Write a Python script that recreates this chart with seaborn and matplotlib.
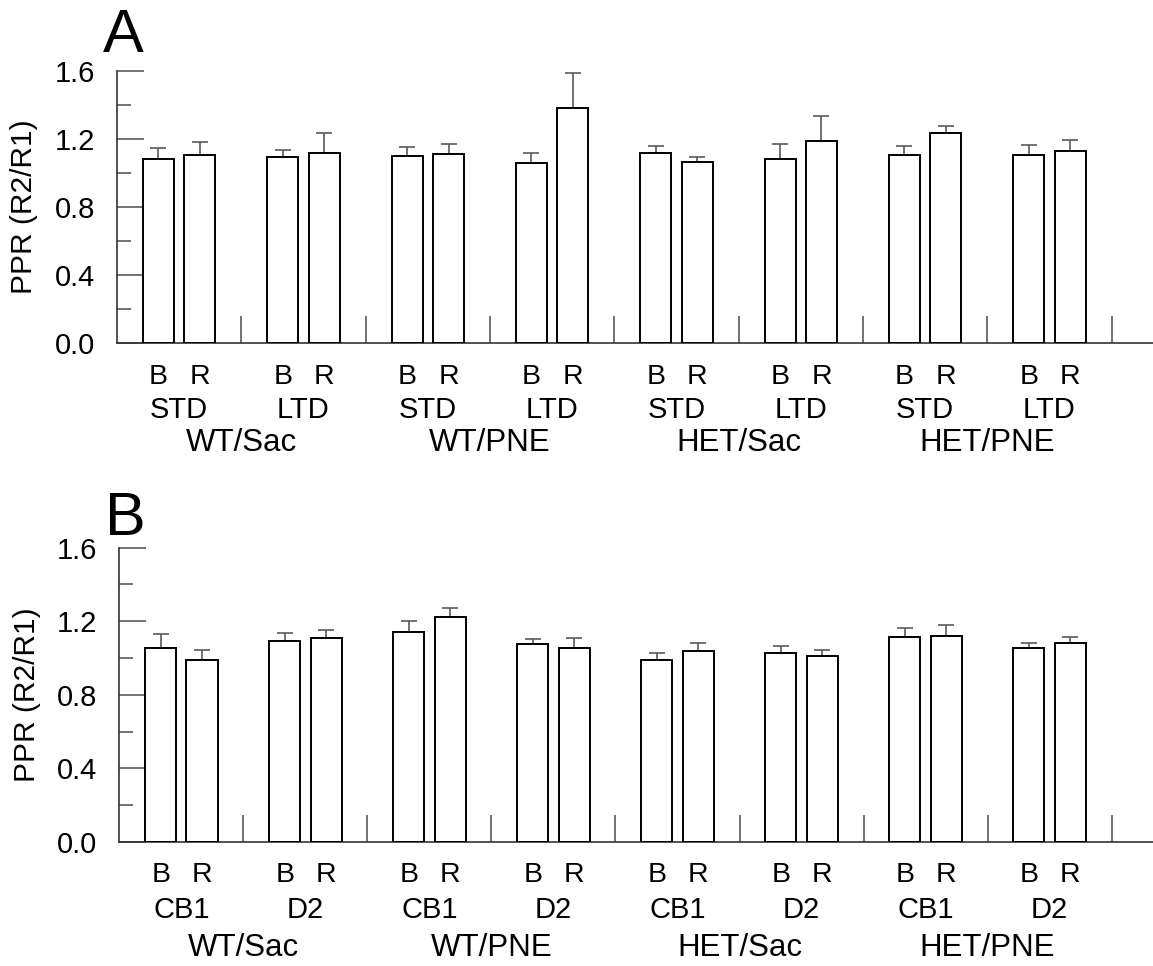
import matplotlib
matplotlib.use("Agg")
import matplotlib.pyplot as plt
import numpy as np
import pandas as pd
import seaborn as sns

# grupos e rótulos
CONDITIONS = ["WT/Sac", "WT/PNE", "HET/Sac", "HET/PNE"]
BARS = ["B", "R"]
SUB_A = ["STD", "LTD"]
SUB_B = ["CB1", "D2"]

# painel A: PPR médio e erro (só para cima), ordem: condição -> STD/LTD -> B/R
ppr_a = [1.08, 1.105, 1.097, 1.116,
         1.102, 1.110, 1.058, 1.381,
         1.116, 1.063, 1.085, 1.189,
         1.108, 1.236, 1.105, 1.130]
err_a = [0.068, 0.080, 0.041, 0.120,
         0.050, 0.063, 0.058, 0.205,
         0.043, 0.030, 0.088, 0.145,
         0.049, 0.043, 0.058, 0.063]

# painel B: CB1/D2
ppr_b = [1.057, 0.988, 1.091, 1.111,
         1.142, 1.224, 1.075, 1.057,
         0.991, 1.037, 1.026, 1.011,
         1.115, 1.122, 1.057, 1.080]
err_b = [0.076, 0.054, 0.047, 0.044,
         0.058, 0.050, 0.031, 0.054,
         0.036, 0.044, 0.038, 0.031,
         0.050, 0.060, 0.027, 0.036]

YTICKS = [0.0, 0.4, 0.8, 1.2, 1.6]
YMINOR = [0.2, 0.6, 1.0, 1.4]

sns.set_theme(style="white")
plt.rcParams["font.family"] = ["Liberation Sans", "DejaVu Sans"]
plt.rcParams["text.color"] = "black"
plt.rcParams["axes.labelcolor"] = "black"

PX = 0.72  # px -> pt a 100 dpi
FS_TICK = 21
FS_BAR = 20.5
FS_SUB = 21
FS_COND = 22.5
FS_YLAB = 21.5
ERR_COLOR = "#5a5a5a"
AX_COLOR = "#333333"


def build_frame(ppr, err, subs):
    rows = []
    i = 0
    for c_i, cond in enumerate(CONDITIONS):
        for s_i, sub in enumerate(subs):
            g = c_i * 2 + s_i
            for b_i, b in enumerate(BARS):
                rows.append({"cond": cond, "sub": sub, "bar": b,
                             "pos": 3 * g + 1 + b_i, "group": g,
                             "ppr": ppr[i], "err": err[i]})
                i += 1
    return pd.DataFrame(rows)


def draw_panel(ax, df, offsets):
    sns.barplot(data=df, x="pos", y="ppr", native_scale=True, width=0.75,
                color="white", edgecolor="black", linewidth=1.4,
                errorbar=None, ax=ax, zorder=3)
    ax.errorbar(df["pos"], df["ppr"], yerr=[np.zeros(len(df)), df["err"]],
                fmt="none", ecolor=ERR_COLOR, elinewidth=1.2, capsize=8 * PX,
                capthick=1.2, zorder=2)
    ax.set_xlim(0, 25)
    ax.set_ylim(0, 1.6)
    ax.set_yticks(YTICKS)
    ax.set_yticklabels([f"{v:.1f}" for v in YTICKS])
    ax.set_yticks(YMINOR, minor=True)
    ax.set_xticks([3 * (g + 1) for g in range(8)])
    ax.set_xticklabels([])
    ax.tick_params(axis="y", which="major", direction="in", length=27 * PX,
                   width=1.2, color=ERR_COLOR, labelcolor="black", labelsize=FS_TICK,
                   pad=22 * PX, left=True)
    ax.tick_params(axis="y", which="minor", direction="in", length=14 * PX,
                   width=1.2, color=ERR_COLOR, left=True)
    ax.tick_params(axis="x", which="major", direction="in", length=27 * PX,
                   width=1.2, color=ERR_COLOR, bottom=True)
    for side in ("top", "right"):
        ax.spines[side].set_visible(False)
    for side in ("left", "bottom"):
        ax.spines[side].set_color(AX_COLOR)
        ax.spines[side].set_linewidth(1.2)
    ax.set_xlabel("")
    ax.set_ylabel("PPR (R2/R1)", fontsize=FS_YLAB)
    ax.yaxis.set_label_coords(-0.076, 0.5)

    lab = dict(xycoords=("data", "axes fraction"), textcoords="offset points",
               ha="center", va="center", annotation_clip=False)
    for _, r in df.iterrows():
        ax.annotate(r["bar"], xy=(r["pos"], 0), xytext=(0, -offsets[0] * PX),
                    fontsize=FS_BAR, **lab)
    for (g, sub), gdf in df.groupby(["group", "sub"]):
        ax.annotate(sub, xy=(gdf["pos"].mean(), 0), xytext=(0, -offsets[1] * PX),
                    fontsize=FS_SUB, **lab)
    for c_i, cond in enumerate(CONDITIONS):
        ax.annotate(cond, xy=(6 * c_i + 3, 0), xytext=(0, -offsets[2] * PX),
                    fontsize=FS_COND, **lab)


df_a = build_frame(ppr_a, err_a, SUB_A)
df_b = build_frame(ppr_b, err_b, SUB_B)

fig = plt.figure(figsize=(11.53, 9.66), dpi=100)
ax_a = fig.add_axes([117 / 1153, 1 - 343.3 / 966, 1 - 117 / 1153, (343.3 - 71) / 966])
ax_b = fig.add_axes([119.3 / 1153, 1 - 842 / 966, 1 - 119.3 / 1153, (842 - 547.7) / 966])

draw_panel(ax_a, df_a, (33.4, 66.7, 100))
draw_panel(ax_b, df_b, (33, 68, 106))

fig.text(103 / 1153, 1 - 52 / 966, "A", fontsize=44, va="baseline", ha="left")
fig.text(105 / 1153, 1 - 535 / 966, "B", fontsize=44, va="baseline", ha="left")

fig.savefig("out.png", dpi=100, facecolor="white")
